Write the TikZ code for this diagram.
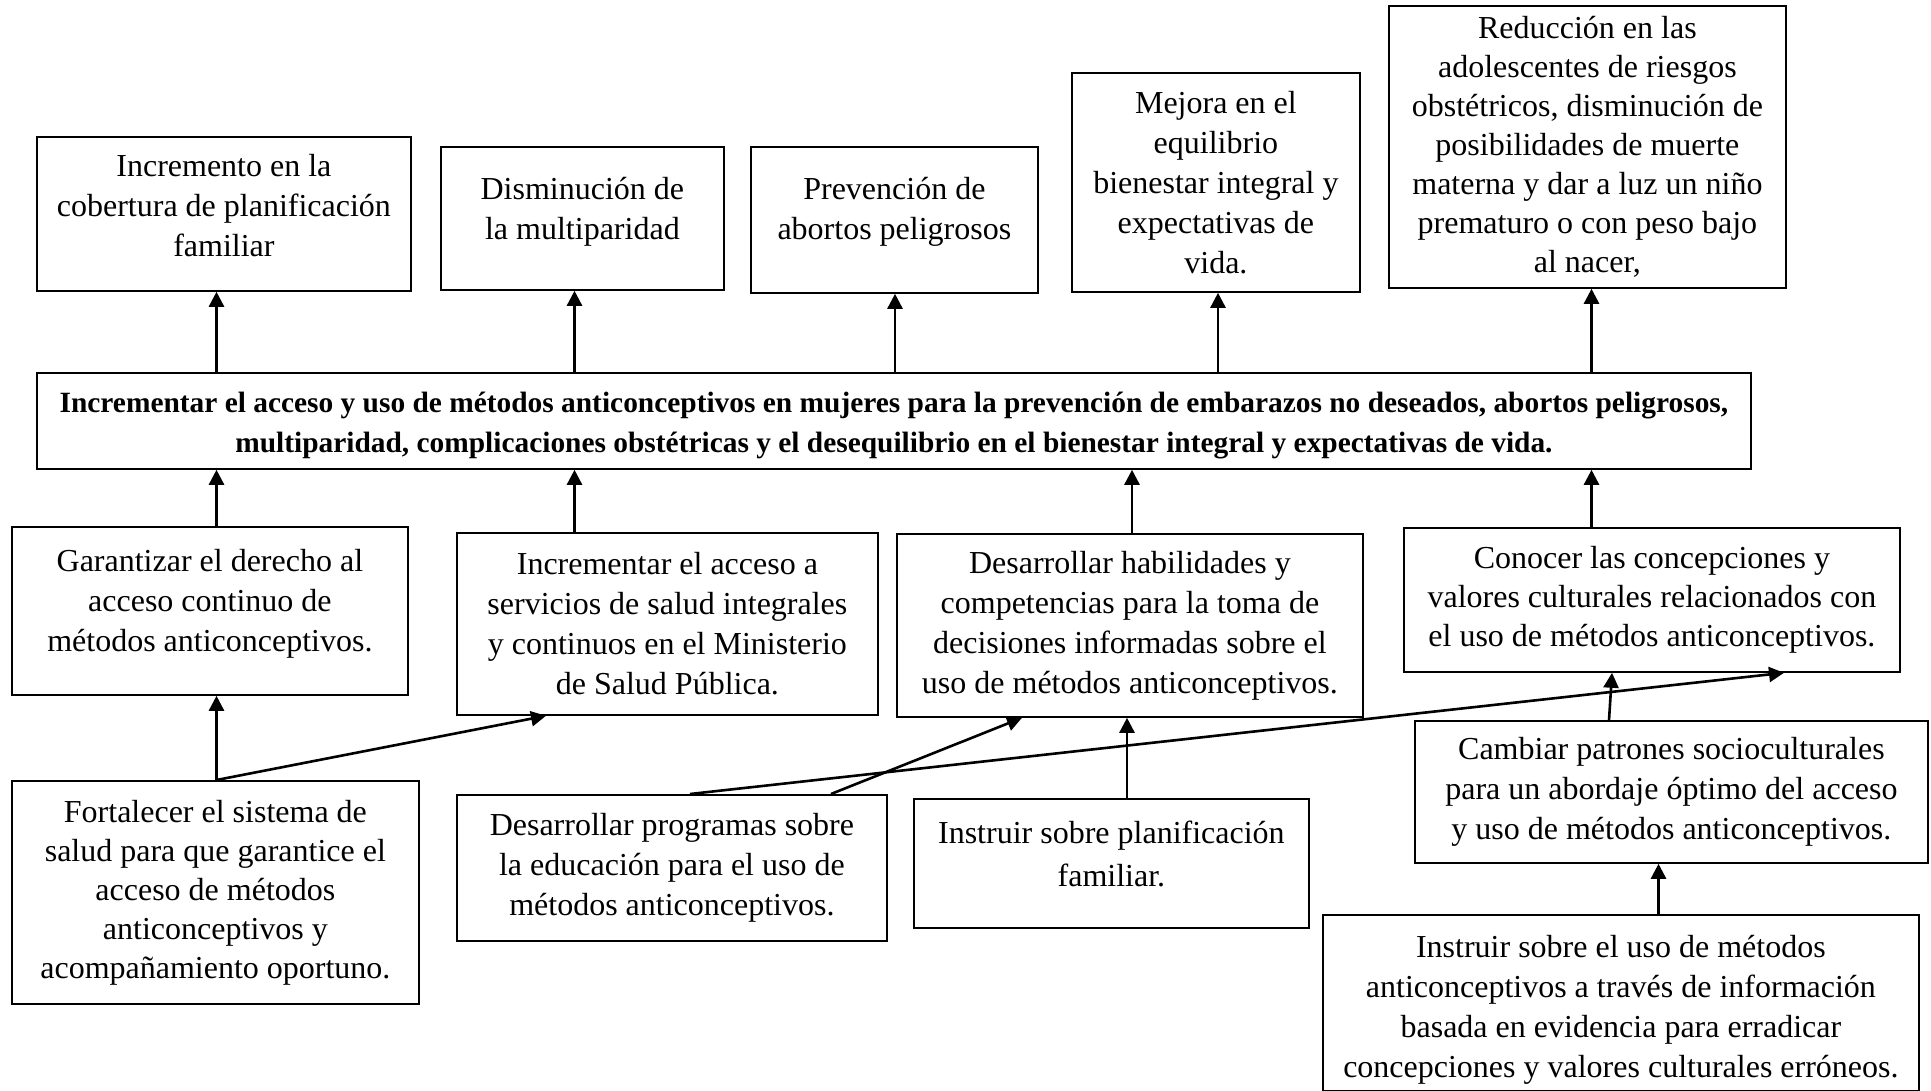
\documentclass[tikz,border=0pt]{standalone}
\usepackage{fontspec}
\setmainfont{Liberation Serif}
\usetikzlibrary{arrows.meta,calc}
\tikzset{
  box/.style={draw, line width=0.9pt, inner sep=0pt, align=center, anchor=north west,
    font=\fontsize{16}{20}\selectfont},
  tight/.style={font=\fontsize{16}{19.5}\selectfont},
  loose/.style={font=\fontsize{16}{21.5}\selectfont},
  mainbox/.style={box, font=\fontsize{14.7}{19.7}\selectfont\bfseries},
  tup/.style={execute at end node={\rule[-#1pt]{0pt}{#1pt}}},
  arr/.style={line width=1.3pt, -{Triangle[length=7.5pt,width=7.5pt]}},
}
\newcommand\bx[7][]{%
  \pgfmathsetmacro\bw{(#5-#3)*0.5}%
  \pgfmathsetmacro\bh{(#6-#4)*0.5}%
  \node[box,#1,minimum width=\bw pt,minimum height=\bh pt] (#2) at (#3,#4) {#7};}
\begin{document}
\begin{tikzpicture}[x=0.5pt,y=-0.5pt]
\useasboundingbox (0,0) rectangle (1931,1091);
% top row
\bx[tup=8.6]{inc}{36}{136}{410}{290}{Incremento en la\\cobertura de planificación\\familiar}
\bx[tup=10.5]{dis}{440}{146}{723}{289}{Disminución de\\la multiparidad}
\bx[tup=12]{pre}{750}{146}{1037}{292}{Prevención de\\abortos peligrosos}
\bx{mej}{1071}{72}{1359}{291}{Mejora en el\\equilibrio\\bienestar integral y\\expectativas de\\vida.}
\bx[tight]{red}{1388}{5}{1785}{287}{Reducción en las\\adolescentes de riesgos\\obstétricos, disminución de\\posibilidades de muerte\\materna y dar a luz un niño\\prematuro o con peso bajo\\al nacer,}
% main
\bx[mainbox]{main}{36}{372}{1750}{468}{\rule{0pt}{15pt}Incrementar el acceso y uso de métodos anticonceptivos en mujeres para la prevención de embarazos no deseados, abortos peligrosos,\\multiparidad, complicaciones obstétricas y el desequilibrio en el bienestar integral y expectativas de vida.}
% middle row
\bx[tup=10.5]{gar}{11}{526}{407}{694}{Garantizar el derecho al\\acceso continuo de\\métodos anticonceptivos.}
\bx{acc}{456}{532}{877}{714}{Incrementar el acceso a\\servicios de salud integrales\\y continuos en el Ministerio\\de Salud Pública.}
\bx{hab}{896}{533}{1362}{716}{Desarrollar habilidades y\\competencias para la toma de\\decisiones informadas sobre el\\uso de métodos anticonceptivos.}
\bx[tight]{con}{1403}{527}{1899}{671}{Conocer las concepciones y\\valores culturales relacionados con\\el uso de métodos anticonceptivos.}
% lower row
\bx[tight]{fort}{11}{780}{418}{1003}{Fortalecer el sistema de\\salud para que garantice el\\acceso de métodos\\anticonceptivos y\\acompañamiento oportuno.}
\bx[tup=1.2]{prog}{456}{794}{886}{940}{Desarrollar programas sobre\\la educación para el uso de\\métodos anticonceptivos.}
\bx[loose,tup=9.9]{pla}{913}{798}{1308}{927}{Instruir sobre planificación\\familiar.}
\bx{cam}{1414}{720}{1927}{862}{Cambiar patrones socioculturales\\para un abordaje óptimo del acceso\\y uso de métodos anticonceptivos.}
\bx{uso}{1322}{914}{1918}{1090}{\rule{0pt}{18pt}Instruir sobre el uso de métodos\\anticonceptivos a través de información\\basada en evidencia para erradicar\\concepciones y valores culturales erróneos.}
% x positions of connectors
\coordinate (xa) at (216.5,0);
\coordinate (xb) at (574.5,0);
\coordinate (xc) at (895,0);
\coordinate (xd) at (1218,0);
\coordinate (xe) at (1591.5,0);
\coordinate (xf) at (1132,0);
\coordinate (xg) at (546,0);
\coordinate (xh) at (690,0);
\coordinate (xi) at (1784,0);
\coordinate (xj) at (831,0);
\coordinate (xk) at (1022,0);
\coordinate (xl) at (1127,0);
\coordinate (xm) at (1609,0);
\coordinate (xn) at (1612,0);
\coordinate (xo) at (1658.5,0);
% main -> effects
\draw[arr] (main.north -| xa) -- (inc.south -| xa);
\draw[arr] (main.north -| xb) -- (dis.south -| xb);
\draw[arr] (main.north -| xc) -- (pre.south -| xc);
\draw[arr] (main.north -| xd) -- (mej.south -| xd);
\draw[arr] (main.north -| xe) -- (red.south -| xe);
% means -> main
\draw[arr] (gar.north -| xa) -- (main.south -| xa);
\draw[arr] (acc.north -| xb) -- (main.south -| xb);
\draw[arr] (hab.north -| xf) -- (main.south -| xf);
\draw[arr] (con.north -| xe) -- (main.south -| xe);
% lower -> middle
\draw[arr] (fort.north -| xa) -- (gar.south -| xa);
\draw[arr] (fort.north -| xa) -- (acc.south -| xg);
\draw[arr] (prog.north -| xh) -- (con.south -| xi);
\draw[arr] (prog.north -| xj) -- (hab.south -| xk);
\draw[arr] (pla.north -| xl) -- (hab.south -| xl);
\draw[arr] (cam.north -| xm) -- (con.south -| xn);
\draw[arr] (uso.north -| xo) -- (cam.south -| xo);
\end{tikzpicture}
\end{document}
